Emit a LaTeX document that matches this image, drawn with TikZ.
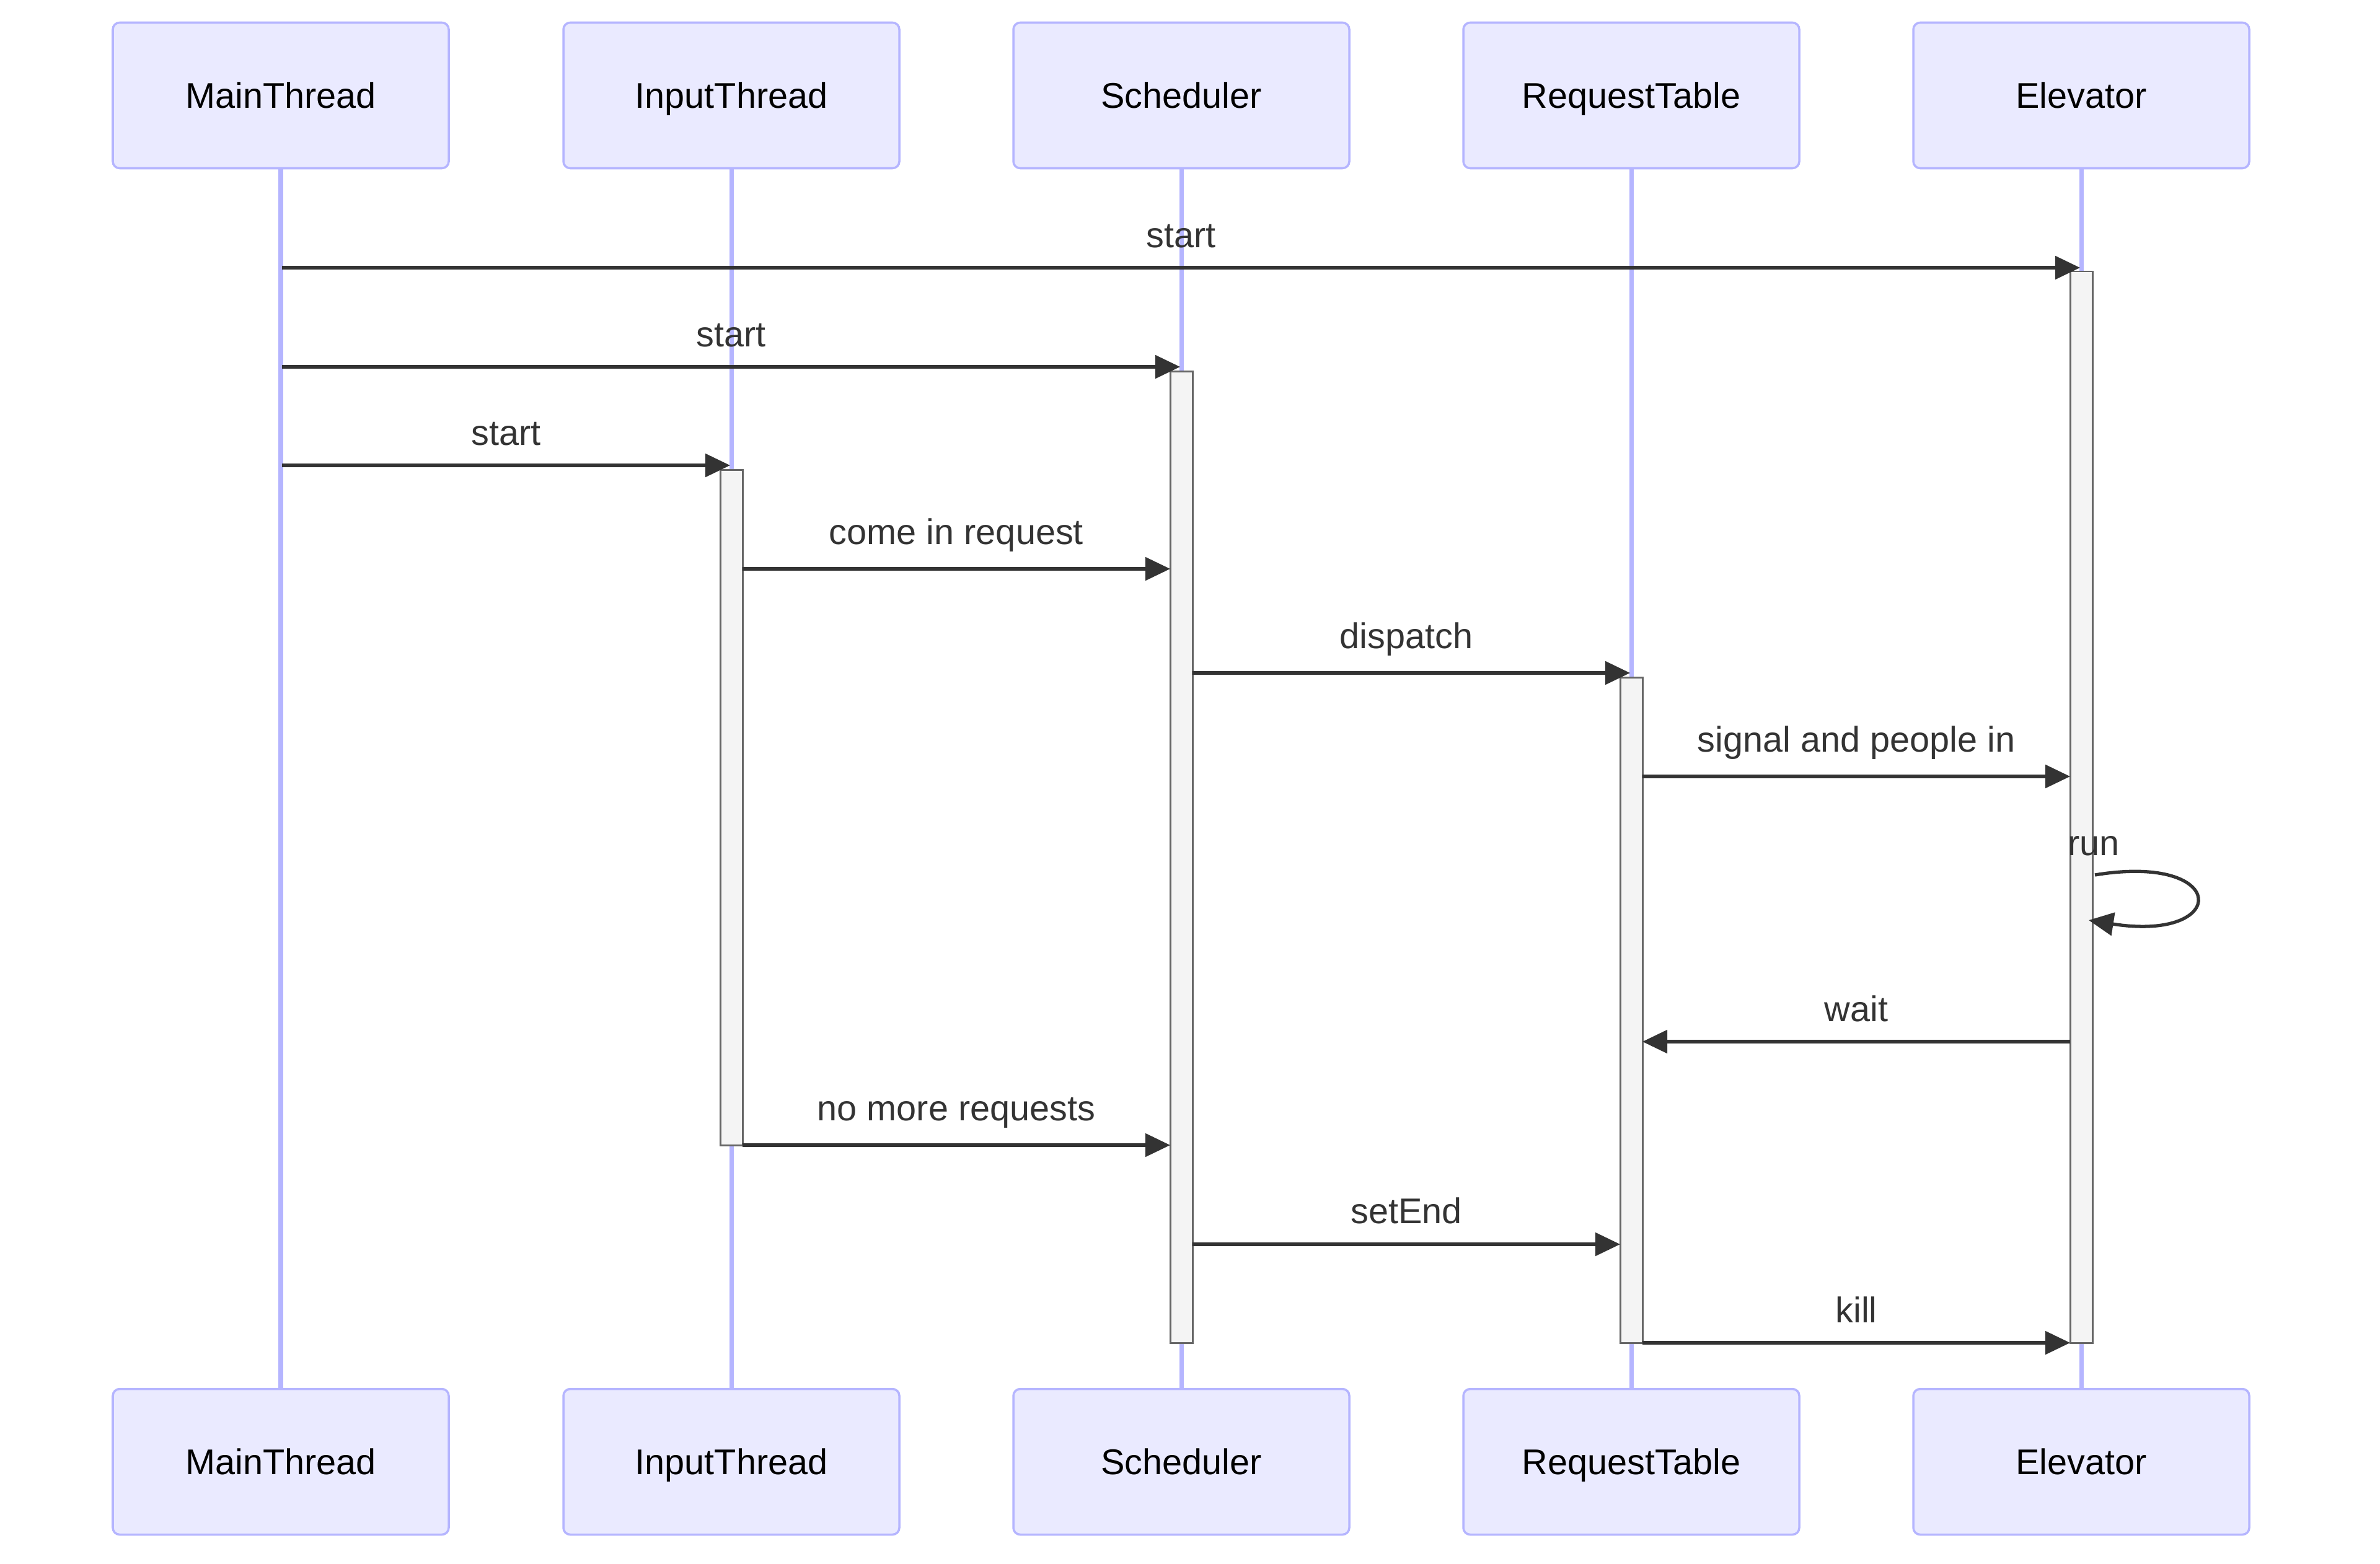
\documentclass[tikz,border=0pt]{standalone}
\usepackage{fontspec}
\setmainfont{Liberation Sans}
\usetikzlibrary{arrows.meta}

\definecolor{actorfill}{HTML}{EAEAFF}
\definecolor{actorline}{HTML}{B5B5FF}
\definecolor{barfill}{HTML}{F4F4F4}
\definecolor{bargray}{HTML}{666666}
\definecolor{msggray}{HTML}{333333}
\newcommand{\seqfont}{\fontsize{16.4}{19.7}\selectfont}

\begin{document}
\begin{tikzpicture}[
  actor/.style={draw=actorline, fill=actorfill, line width=1pt, rounded corners=0.11cm,
    minimum width=5.42cm, minimum height=2.35cm, inner sep=0pt, font=\seqfont, text=black,
    text height=11.74pt, text depth=0pt},
  lifeline/.style={actorline, line width=2pt},
  actbar/.style={draw=bargray, fill=barfill, line width=0.85pt},
  msg/.style={msggray, line width=1.5pt, -{Triangle[length=0.4cm, width=0.37cm]}},
  msglabel/.style={font=\seqfont, text=msggray, anchor=base, inner sep=0pt, midway, yshift=#1},
  msglabel/.default=0.40cm
]
\useasboundingbox (0,0) rectangle (38.4,-25.23);

\node[actor] (mainT) at (4.53,-1.54) {MainThread};
\node[actor] (inputT) at (11.80,-1.54) {InputThread};
\node[actor] (schedT) at (19.06,-1.54) {Scheduler};
\node[actor] (tableT) at (26.32,-1.54) {RequestTable};
\node[actor] (elevT) at (33.58,-1.54) {Elevator};

\node[actor] (mainB) at (4.53,-23.59) {MainThread};
\node[actor] (inputB) at (11.80,-23.59) {InputThread};
\node[actor] (schedB) at (19.06,-23.59) {Scheduler};
\node[actor] (tableB) at (26.32,-23.59) {RequestTable};
\node[actor] (elevB) at (33.58,-23.59) {Elevator};

\draw[lifeline] (mainT) -- (mainB);
\draw[lifeline] (inputT) -- (inputB);
\draw[lifeline] (schedT) -- (schedB);
\draw[lifeline] (tableT) -- (tableB);
\draw[lifeline] (elevT) -- (elevB);

\draw[actbar] (33.40,-4.38) rectangle (33.76,-21.67);
\draw[actbar] (18.88,-5.99) rectangle (19.24,-21.67);
\draw[actbar] (11.62,-7.58) rectangle (11.98,-18.48);
\draw[actbar] (26.14,-10.93) rectangle (26.50,-21.67);

\coordinate (m1a) at (4.55,-4.32);   \coordinate (m1b) at (33.56,-4.32);
\coordinate (m2a) at (4.55,-5.92);   \coordinate (m2b) at (19.04,-5.92);
\coordinate (m3a) at (4.55,-7.51);   \coordinate (m3b) at (11.78,-7.51);
\coordinate (m4a) at (11.98,-9.18);  \coordinate (m4b) at (18.88,-9.18);
\coordinate (m5a) at (19.24,-10.86); \coordinate (m5b) at (26.30,-10.86);
\coordinate (m6a) at (26.50,-12.53); \coordinate (m6b) at (33.40,-12.53);
\coordinate (runa) at (33.80,-14.12); \coordinate (runb) at (33.70,-14.85);
\coordinate (m8a) at (33.40,-16.81); \coordinate (m8b) at (26.50,-16.81);
\coordinate (m9a) at (11.98,-18.48); \coordinate (m9b) at (18.88,-18.48);
\coordinate (m10a) at (19.24,-20.08); \coordinate (m10b) at (26.14,-20.08);
\coordinate (m11a) at (26.50,-21.67); \coordinate (m11b) at (33.40,-21.67);

\draw[msg] (m1a) -- (m1b) node[msglabel=0.33cm] (l1) {start};
\draw[msg] (m2a) -- (m2b) node[msglabel=0.33cm] (l2) {start};
\draw[msg] (m3a) -- (m3b) node[msglabel=0.33cm] (l3) {start};
\draw[msg] (m4a) -- (m4b) node[msglabel] (l4) {come in request};
\draw[msg] (m5a) -- (m5b) node[msglabel, xshift=-0.08cm] (l5) {dispatch};
\draw[msg] (m6a) -- (m6b) node[msglabel] (l6) {signal and people in};
\draw[msg] (runa) .. controls (35.98,-13.76) and (35.98,-15.21) .. (runb);
\node[font=\seqfont, text=msggray, anchor=base, inner sep=0pt] (l7) at (33.78,-13.80) {run};
\draw[msg] (m8a) -- (m8b) node[msglabel=0.33cm] (l8) {wait};
\draw[msg] (m9a) -- (m9b) node[msglabel] (l9) {no more requests};
\draw[msg] (m10a) -- (m10b) node[msglabel=0.34cm] (l10) {setEnd};
\draw[msg] (m11a) -- (m11b) node[msglabel=0.33cm] (l11) {kill};
\end{tikzpicture}
\end{document}
